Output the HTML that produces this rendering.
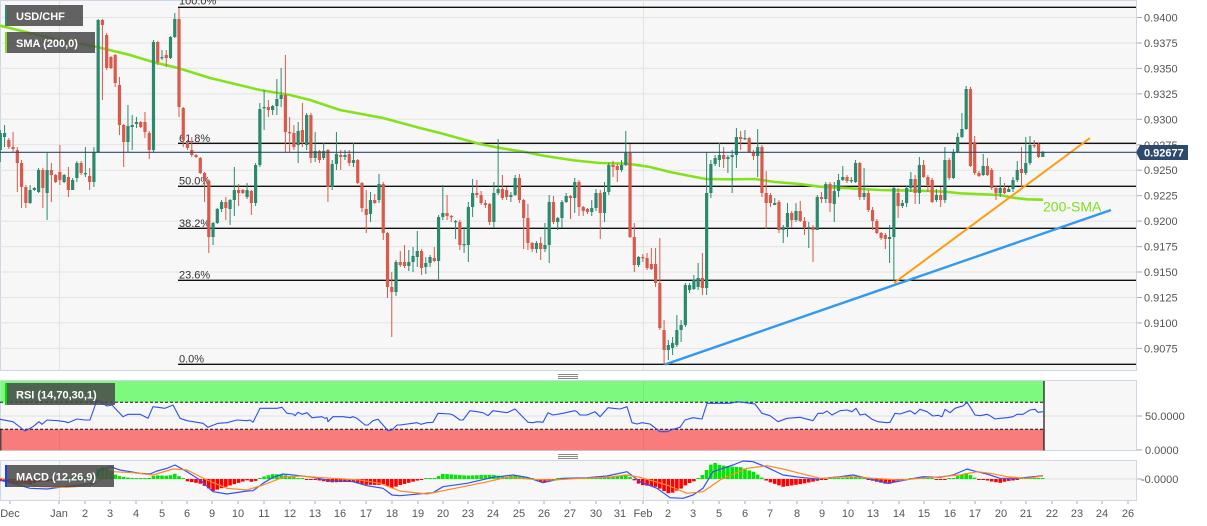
<!DOCTYPE html>
<html><head><meta charset="utf-8">
<style>
html,body{margin:0;padding:0;background:#fff;}
body{width:1207px;height:526px;overflow:hidden;}
svg{display:block;}
</style></head>
<body>
<svg id="s" width="1207" height="526" xmlns="http://www.w3.org/2000/svg" font-family="Liberation Sans, Arial, sans-serif">
<defs>
<clipPath id="cp"><rect x="0" y="0" width="1136" height="370"/></clipPath>
<clipPath id="cr"><rect x="0" y="380" width="1136" height="71"/></clipPath>
<clipPath id="cm"><rect x="0" y="460" width="1136" height="40"/></clipPath>
</defs>
<rect width="1207" height="526" fill="#fff"/>
<!-- main panel -->
<rect x="0.5" y="0.5" width="1136" height="370" fill="#f7f7f7" stroke="#cfd6e6"/>
<g stroke="#e3e3e3" stroke-width="1">
<line x1="0" y1="17.5" x2="1136" y2="17.5"/><line x1="0" y1="43" x2="1136" y2="43"/><line x1="0" y1="68.4" x2="1136" y2="68.4"/><line x1="0" y1="93.9" x2="1136" y2="93.9"/><line x1="0" y1="119.3" x2="1136" y2="119.3"/><line x1="0" y1="144.8" x2="1136" y2="144.8"/><line x1="0" y1="170.2" x2="1136" y2="170.2"/><line x1="0" y1="195.7" x2="1136" y2="195.7"/><line x1="0" y1="221.1" x2="1136" y2="221.1"/><line x1="0" y1="246.6" x2="1136" y2="246.6"/><line x1="0" y1="272" x2="1136" y2="272"/><line x1="0" y1="297.5" x2="1136" y2="297.5"/><line x1="0" y1="322.9" x2="1136" y2="322.9"/><line x1="0" y1="348.4" x2="1136" y2="348.4"/>
<line x1="59.5" y1="0" x2="59.5" y2="370"/><line x1="643.5" y1="0" x2="643.5" y2="370"/>
</g>
<g clip-path="url(#cp)">
<g stroke="#111" stroke-width="1.4">
<line x1="178" y1="7.3" x2="1136" y2="7.3"/><line x1="178" y1="143.3" x2="1136" y2="143.3"/><line x1="178" y1="186.3" x2="1136" y2="186.3"/><line x1="178" y1="228.3" x2="1136" y2="228.3"/><line x1="178" y1="280.3" x2="1136" y2="280.3"/><line x1="178" y1="364.3" x2="1136" y2="364.3"/>
</g>
<g font-size="11" fill="#333">
<text x="179" y="4.5">100.0%</text><text x="179" y="142">61.8%</text><text x="179" y="184.5">50.0%</text><text x="179" y="227">38.2%</text><text x="179" y="278.5">23.6%</text><text x="179" y="362.5">0.0%</text>
</g>
<polyline fill="none" stroke="#84e21c" stroke-width="2.6" stroke-linejoin="round" points="0,25.7 30,33 60,40 97,47 130,55 153,62 178,68 210,78 235,84 260,90 290,95 310,100 340,110 383,118 420,128 440,133 480,144 500,148 525,152 545,156 575,160.5 600,163 620,163.5 630,164 650,167 670,172 690,176 706,179 730,179.3 755,179 775,182 800,184 820,186.7 850,188.3 880,190 930,191 945,191.7 960,193.3 1000,195 1013,197.7 1027,199.3 1043,199.7"/>
<g id="candles"></g>
<line x1="894" y1="283" x2="1090" y2="138" stroke="#ff9b0f" stroke-width="2"/>
<line x1="665" y1="364.5" x2="1111" y2="210" stroke="#3399ee" stroke-width="2.4"/>
<line x1="0" y1="152.3" x2="1136" y2="152.3" stroke="#2c4a70" stroke-width="1.2"/>
<text x="1043" y="211.5" font-size="14" fill="#7ee01c">200-SMA</text>
</g>
<!-- legends main -->
<rect x="5" y="5" width="78" height="21" fill="rgba(72,72,72,0.85)"/>
<rect x="5" y="5" width="2" height="21" fill="#2b8a6d"/>
<text x="16" y="20" font-size="11" font-weight="bold" fill="#fff">USD/CHF</text>
<rect x="5" y="32" width="90" height="21" fill="rgba(72,72,72,0.85)"/>
<rect x="5" y="32" width="2" height="21" fill="#7fe01c"/>
<text x="16" y="47" font-size="11" font-weight="bold" fill="#fff">SMA (200,0)</text>
<!-- right axis -->
<g stroke="#aaa"><line x1="1137" y1="17.5" x2="1142" y2="17.5"/><line x1="1137" y1="43" x2="1142" y2="43"/><line x1="1137" y1="68.4" x2="1142" y2="68.4"/><line x1="1137" y1="93.9" x2="1142" y2="93.9"/><line x1="1137" y1="119.3" x2="1142" y2="119.3"/><line x1="1137" y1="144.8" x2="1142" y2="144.8"/><line x1="1137" y1="170.2" x2="1142" y2="170.2"/><line x1="1137" y1="195.7" x2="1142" y2="195.7"/><line x1="1137" y1="221.1" x2="1142" y2="221.1"/><line x1="1137" y1="246.6" x2="1142" y2="246.6"/><line x1="1137" y1="272" x2="1142" y2="272"/><line x1="1137" y1="297.5" x2="1142" y2="297.5"/><line x1="1137" y1="322.9" x2="1142" y2="322.9"/><line x1="1137" y1="348.4" x2="1142" y2="348.4"/>
<line x1="1137" y1="416" x2="1142" y2="416"/><line x1="1137" y1="450" x2="1142" y2="450"/><line x1="1137" y1="479" x2="1142" y2="479"/></g>
<g font-size="11" fill="#555">
<text x="1144" y="21.5">0.9400</text><text x="1144" y="47">0.9375</text><text x="1144" y="72.4">0.9350</text><text x="1144" y="97.9">0.9325</text><text x="1144" y="123.3">0.9300</text><text x="1144" y="148.8">0.9275</text><text x="1144" y="174.2">0.9250</text><text x="1144" y="199.7">0.9225</text><text x="1144" y="225.1">0.9200</text><text x="1144" y="250.6">0.9175</text><text x="1144" y="276">0.9150</text><text x="1144" y="301.5">0.9125</text><text x="1144" y="326.9">0.9100</text><text x="1144" y="352.4">0.9075</text>
<text x="1145" y="420">50.0000</text><text x="1145" y="454">0.0000</text><text x="1141" y="483">-0.0000</text>
</g>
<path d="M1136,152.3 L1140,145 L1188,145 L1188,160 L1140,160 Z" fill="#2d4a6e"/>
<text x="1144" y="156.5" font-size="11" font-weight="bold" fill="#fff">0.92677</text>
<!-- separators -->
<g stroke="#888" stroke-width="1"><line x1="558" y1="374.5" x2="578" y2="374.5"/><line x1="558" y1="376.5" x2="578" y2="376.5"/><line x1="558" y1="378.5" x2="578" y2="378.5"/>
<line x1="558" y1="454.5" x2="578" y2="454.5"/><line x1="558" y1="456.5" x2="578" y2="456.5"/><line x1="558" y1="458.5" x2="578" y2="458.5"/></g>
<!-- RSI panel -->
<rect x="0.5" y="380.5" width="1136" height="70" fill="#f7f7f7" stroke="#cfd6e6"/>
<rect x="0.5" y="381" width="1043.5" height="21.3" fill="#7dfa7d"/>
<rect x="0.5" y="429.3" width="1043.5" height="21" fill="#f97c7c"/>
<line x1="0" y1="416" x2="1136" y2="416" stroke="#e0e0e0"/>
<line x1="59.5" y1="381" x2="59.5" y2="450" stroke="rgba(0,0,0,0.06)"/><line x1="643.5" y1="381" x2="643.5" y2="450" stroke="rgba(0,0,0,0.06)"/>
<g stroke="#111" stroke-width="1" stroke-dasharray="3,2"><line x1="0" y1="402.3" x2="1044" y2="402.3"/><line x1="0" y1="429.3" x2="1044" y2="429.3"/></g>
<line x1="1044" y1="381" x2="1044" y2="450.5" stroke="#111" stroke-width="1.2"/>
<line x1="0.8" y1="429.3" x2="0.8" y2="450.5" stroke="#111" stroke-width="1"/>
<g clip-path="url(#cr)">
<polyline fill="none" stroke="#2e4ff0" stroke-width="1.1" stroke-linejoin="round" points="0,419.3 13,421.7 25,431 33,426.7 39,421.7 42,424.3 47,420 58,420.7 65,421.7 68,422.7 77,419 85,420 90,420 97,400 107,406 112,405 123,416.7 128,414.3 140,414.3 148,418.3 153,406.7 165,408.3 173,405 180,418.3 187,420.7 203,423.3 208,427.3 218,423.3 227,422.7 237,420 247,420.7 250,420 253,422.3 260,408.3 277,408.3 282,407.3 287,413.3 293,414 295,415.7 298,412.3 302,414.3 307,412.7 312,417.7 322,416.7 325,418.3 327,417.7 328,421.7 333,416.7 343,416.7 350,417.7 353,416.7 357,418.3 365,425 368,425 373,420.7 378,419.3 383,425 388,430.7 392,430 397,425 400,425 417,422.7 421,424.3 427,422.7 433,422.3 438,413.3 450,414 453,415 460,420 463,420 470,410.7 477,411.7 483,412.7 488,415.7 493,410.7 500,411.7 507,412.7 515,409 528,422.3 533,422.7 537,421.7 543,422.3 548,412.7 553,415 563,413.3 570,411.7 575,410.7 577,411.7 580,415 587,415 595,411.7 600,416.7 608,407.7 613,408.3 620,409 627,406.7 632,422.7 637,424 642,422.7 650,424 657,429.3 660,431.7 667,431.7 673,429.3 680,427.3 685,420 693,417.7 702,419 707,403.3 713,403.3 730,403.3 737,401.7 743,402.3 750,403.3 755,404 762,413.3 770,415.7 778,421.7 787,418.3 800,417.3 813,420.7 818,413.3 823,413.3 827,411 832,415 840,410.7 847,410 852,411.7 856,408.3 860,415 865,414 872,419.3 878,421.7 887,422.7 890,422.3 895,413.3 900,414 910,410.7 915,414 920,409.3 927,411.7 933,416 938,415.3 942,416.7 945,409.3 950,412.7 955,408.3 960,406.7 963,406 967,402.3 971,408.3 975,415 980,415.7 987,414.3 990,415.7 995,419 1000,418.3 1007,417.7 1013,416.7 1017,414.3 1023,414.3 1030,410 1035,409.3 1038,412.3 1043,411.7"/>
</g>
<rect x="5" y="383" width="110" height="22" fill="rgba(72,72,72,0.85)"/>
<rect x="5" y="383" width="2" height="22" fill="#00dd00"/>
<text x="16" y="398.5" font-size="11" font-weight="bold" fill="#fff">RSI (14,70,30,1)</text>
<!-- MACD panel -->
<rect x="0.5" y="460.5" width="1136" height="40" fill="#f7f7f7" stroke="#cfd6e6"/>
<line x1="0" y1="479" x2="1136" y2="479" stroke="#e0e0e0"/>
<line x1="59.5" y1="461" x2="59.5" y2="500" stroke="#e0e0e0"/><line x1="643.5" y1="461" x2="643.5" y2="500" stroke="#e0e0e0"/>
<g clip-path="url(#cm)">
<g id="hist"></g>
<polyline id="mb" fill="none" stroke="#3050ff" stroke-width="1.2" stroke-linejoin="round" points="0,480 13,483.3 30,488.3 47,489 60,487.3 80,485 92,483.3 100,470 110,466.7 120,470 140,473.3 150,474 157,471 167,468.3 175,465 187,471.7 200,480 213,491.7 227,494 247,491 253,490.7 263,483.3 273,477.3 283,474 300,475.7 313,477.3 330,480.7 353,481.7 367,485.7 383,488.3 392,495 400,495.7 433,492.7 443,486.7 467,483.3 493,477.3 513,475 527,477.3 543,482.7 563,478.3 587,477.7 607,476 627,471.7 640,481.7 657,488.3 670,497.7 683,498.3 693,495 703,488.3 713,471.7 733,465 743,461 753,461.7 767,467.3 783,475 800,477.3 817,479 840,476.7 853,475 870,479 888,483.3 900,481 923,476.7 940,477.3 953,475 967,469 973,470.7 987,474 1000,478.3 1017,478.3 1027,477.3 1043,475.7"/>
<polyline id="mo" fill="none" stroke="#ff8a1c" stroke-width="1.2" stroke-linejoin="round" points="0,478.3 20,481.7 40,486.7 67,487.3 90,485.7 100,480 113,471.7 133,472.7 153,475 173,469 187,470 207,480 227,488.3 247,490 263,485 283,477.3 300,476 317,477.3 333,478.3 360,480 380,483.3 392,488 400,491 427,494 450,489.3 483,482.7 507,477.3 533,479.3 553,480 580,478.3 607,477.3 627,475 640,477.3 667,485 687,493.3 703,491.7 720,480 747,468.3 767,465.7 783,469 800,473.3 820,478.3 850,476.7 873,478.3 900,480 933,477.3 960,475 977,471.7 990,473.3 1007,476.7 1027,478.3 1043,476"/>
</g>
<rect x="5" y="465" width="109" height="22" fill="rgba(72,72,72,0.85)"/>
<rect x="5" y="465" width="2" height="22" fill="#1a3cff"/>
<text x="16" y="480.5" font-size="11" font-weight="bold" fill="#fff">MACD (12,26,9)</text>
<!-- x axis -->
<g stroke="#aaa"><line x1="10" y1="501" x2="10" y2="504"/><line x1="59" y1="501" x2="59" y2="504"/><line x1="85" y1="501" x2="85" y2="504"/><line x1="110" y1="501" x2="110" y2="504"/><line x1="136" y1="501" x2="136" y2="504"/><line x1="162" y1="501" x2="162" y2="504"/><line x1="187" y1="501" x2="187" y2="504"/><line x1="212" y1="501" x2="212" y2="504"/><line x1="238" y1="501" x2="238" y2="504"/><line x1="264" y1="501" x2="264" y2="504"/><line x1="290" y1="501" x2="290" y2="504"/><line x1="315" y1="501" x2="315" y2="504"/><line x1="340" y1="501" x2="340" y2="504"/><line x1="366" y1="501" x2="366" y2="504"/><line x1="392" y1="501" x2="392" y2="504"/><line x1="418" y1="501" x2="418" y2="504"/><line x1="443" y1="501" x2="443" y2="504"/><line x1="468" y1="501" x2="468" y2="504"/><line x1="493" y1="501" x2="493" y2="504"/><line x1="519" y1="501" x2="519" y2="504"/><line x1="544" y1="501" x2="544" y2="504"/><line x1="570" y1="501" x2="570" y2="504"/><line x1="596" y1="501" x2="596" y2="504"/><line x1="620" y1="501" x2="620" y2="504"/><line x1="643" y1="501" x2="643" y2="504"/><line x1="668" y1="501" x2="668" y2="504"/><line x1="693" y1="501" x2="693" y2="504"/><line x1="719" y1="501" x2="719" y2="504"/><line x1="745" y1="501" x2="745" y2="504"/><line x1="770" y1="501" x2="770" y2="504"/><line x1="797" y1="501" x2="797" y2="504"/><line x1="822" y1="501" x2="822" y2="504"/><line x1="848" y1="501" x2="848" y2="504"/><line x1="873" y1="501" x2="873" y2="504"/><line x1="899" y1="501" x2="899" y2="504"/><line x1="924" y1="501" x2="924" y2="504"/><line x1="950" y1="501" x2="950" y2="504"/><line x1="975" y1="501" x2="975" y2="504"/><line x1="1001" y1="501" x2="1001" y2="504"/><line x1="1026" y1="501" x2="1026" y2="504"/><line x1="1052" y1="501" x2="1052" y2="504"/><line x1="1077" y1="501" x2="1077" y2="504"/><line x1="1102" y1="501" x2="1102" y2="504"/><line x1="1128" y1="501" x2="1128" y2="504"/></g>
<g font-size="11" fill="#555" text-anchor="middle">
<text x="10" y="517">Dec</text><text x="59" y="517">Jan</text><text x="85" y="517">2</text><text x="110" y="517">3</text><text x="136" y="517">4</text><text x="162" y="517">5</text><text x="187" y="517">6</text><text x="212" y="517">9</text><text x="238" y="517">10</text><text x="264" y="517">11</text><text x="290" y="517">12</text><text x="315" y="517">13</text><text x="340" y="517">16</text><text x="366" y="517">17</text><text x="392" y="517">18</text><text x="418" y="517">19</text><text x="443" y="517">20</text><text x="468" y="517">23</text><text x="493" y="517">24</text><text x="519" y="517">25</text><text x="544" y="517">26</text><text x="570" y="517">27</text><text x="596" y="517">30</text><text x="620" y="517">31</text><text x="643" y="517">Feb</text><text x="668" y="517">2</text><text x="693" y="517">3</text><text x="719" y="517">5</text><text x="745" y="517">6</text><text x="770" y="517">7</text><text x="797" y="517">8</text><text x="822" y="517">9</text><text x="848" y="517">10</text><text x="873" y="517">13</text><text x="899" y="517">14</text><text x="924" y="517">15</text><text x="950" y="517">16</text><text x="975" y="517">17</text><text x="1001" y="517">20</text><text x="1026" y="517">21</text><text x="1052" y="517">22</text><text x="1077" y="517">23</text><text x="1102" y="517">24</text><text x="1128" y="517">26</text>
</g>
</svg>
<script>
(function(){
var NS="http://www.w3.org/2000/svg";
var C=[[150,133,130,162],[137,133,125,147],[140,147,138,149],[147,149,132,152],[150,163,147,192],[163,187,160,208],[187,203,185,208],[203,190,185,204],[190,188],[192,170,168,193],
[170,188,168,208],[193,170,152,220],[170,175,163,202],[175,182],[172,180,145,185],[182,175],[177,190,167,197],[190,180,178,190],[178,163,161,182],[163,173,161,175],
[174,173,147,177],[176,182,168,190],[182,152,147,187],[152,20,19,153],[20,25,19,100],[35,68,33,70],[57,68],[55,83,54,87],[85,125,77,135],[125,142,124,167],
[142,126,105,152],[127,125,115,150],[124,122,117,128],[122,127],[122,132,112,138],[133,150,131,159],[150,42,40,153],[42,62,41,65],[58,57,50,60],[55,58,50,67],
[58,37],[37,19,13,38],[19,107,8,117],[108,140,107,147],[143,148,140,150],[150,155,137,157],[155,157],[158,173],[173,180,172,202],[181,237,180,253],
[237,223,222,245],[223,209],[209,202,200,212],[202,208,197,220],[209,200,199,225],[200,190,167,216],[190,193,184,206],[190,193],[197,190,183,199],[191,203,190,215],
[203,165,163,206],[165,109,103,167],[108,107,90,130],[107,110,100,117],[110,106,105,115],[106,99,79,115],[99,95,68,107],[95,132,55,153],[132,133,117,152],[133,147,125,150],
[145,131,122,163],[130,142,103,147],[145,115,113,150],[115,158,113,163],[158,151,132,162],[151,160,150,163],[158,151,143,160],[150,187,149,202],[187,164,160,190],[164,154,132,170],
[155,157,150,170],[157,155,150,160],[154,163,150,166],[163,160,143,167],[160,183,159,184],[183,208,182,212],[209,215,190,233],[214,200,192,222],[200,203,194,204],[200,184,174,203],
[184,233,182,240],[233,287,232,298],[287,292,272,337],[292,262,260,296],[262,265,251,267],[262,266,245,268],[266,262,250,271],[262,256,247,272],[257,251,231,267],[251,268,249,275],
[267,263,257,274],[263,257,255,267],[258,261,247,262],[261,217,215,280],[217,213,185,220],[213,216,195,220],[216,217,215,222],[222,221,220,239],[222,245,220,250],[245,244,227,253],
[245,207,202,262],[207,193,179,217],[193,195,180,198],[195,203,191,205],[203,205,200,208],[204,222,203,225],[222,193,182,228],[193,189,139,195],[189,198,175,200],[190,197,187,200],
[197,195,192,202],[195,178,175,196],[178,200,174,203],[200,218,199,249],[218,243,204,250],[243,249,242,252],[249,243,241,253],[243,249,237,260],[249,245,223,252],[245,202,195,263],
[202,222,196,224],[222,218,217,230],[218,202,200,228],[202,196,193,203],[196,198,195,219],[198,182,178,213],[182,207,180,216],[207,211,206,216],[209,212,208,214],[212,208,200,216],
[208,193,189,211],[193,213,190,239],[213,192,182,222],[192,165,163,195],[165,167,161,177],[166,170,164,182],[170,165,160,172],[165,153,131,166],[153,237,144,238],[237,265,223,272],
[265,257,256,267],[257,258,254,262],[258,268,253,270],[264,269,248,270],[264,283,248,287],[283,328,238,330],[330,350,320,365],[350,345,340,360],[348,343,337,355],[345,330,315,347],
[330,325,320,342],[325,285,283,327],[290,285,283,293],[289,280,275,290],[287,278,263,290],[278,288,253,295],[288,193,152,295],[193,164,160,198],[164,158,155,166],[160,155,143,167],
[155,159,147,168],[159,157,155,173],[157,155,150,193],[155,137,128,168],[137,139,131,150],[139,138,130,140],[138,152,137,153],[152,156,150,160],[156,147,129,177],[147,193,145,197],
[193,203,171,229],[195,203,193,207],[205,203,198,205],[202,230,200,233],[230,227,225,243],[227,213,203,237],[213,220,211,228],[220,211,203,222],[211,221,201,222],[221,228,217,235],
[228,227,222,248],[227,230,225,262],[230,197,195,230],[197,199,192,203],[199,184,182,203],[184,203,182,212],[204,191,182,222],[191,180,174,197],[180,177,166,181],[177,181,175,183],
[181,180,177,183],[182,163,160,183],[163,197,162,200],[197,193,168,200],[193,210,190,212],[210,221,207,230],[221,233,219,234],[233,238,232,240],[235,239,233,249],[239,237,225,263],
[237,188,187,281],[193,206,188,218],[206,203,200,208],[203,188,186,207],[188,179,172,192],[179,193,175,204],[193,165,157,204],[165,177,160,178],[177,185,175,192],[180,202,178,203],
[200,195,189,202],[195,200,187,207],[200,160,147,203],[160,178,158,180],[178,152,149,179],[152,137,133,153],[137,129,113,138],[129,89,86,130],[89,166,87,167],[142,173,136,175],
[173,176,171,177],[175,166,154,176],[166,175,158,176],[170,188,168,190],[188,193,186,200],[193,188,177,197],[188,193,183,194],[192,189,187,192],[189,180,177,192],[180,170,161,182],
[169,173,147,187],[173,163,137,175],[163,145,136,165],[145,146,140,148],[144,157,143,158],[157,152,151,157]];
function el(n,a){var e=document.createElementNS(NS,n);for(var k in a)e.setAttribute(k,a[k]);return e;}
var g=document.getElementById('candles');
var N=C.length;
for(var i=0;i<N;i++){
 var d=C[i],x=0.3+i*4.255,o=d[0],c=d[1],h=d[2],l=d[3];
 if(h===undefined){h=Math.min(o,c)-1;l=Math.max(o,c)+1;}
 var col=(c<=o)?'#2b8a6d':'#d9594a';
 g.appendChild(el('line',{x1:x,y1:h,x2:x,y2:l,stroke:col,'stroke-width':1}));
 var t=Math.min(o,c),hh=Math.max(Math.abs(o-c),1.3);
 g.appendChild(el('rect',{x:x-1.6,y:t,width:3.2,height:hh,fill:col}));
}
function pts(id){return document.getElementById(id).getAttribute('points').trim().split(/\s+/).map(function(p){var a=p.split(',');return [+a[0],+a[1]];});}
function ip(P,x){for(var k=1;k<P.length;k++){if(x<=P[k][0]){var a=P[k-1],b=P[k];return a[1]+(b[1]-a[1])*(x-a[0])/(b[0]-a[0]);}}return P[P.length-1][1];}
var B=pts('mb'),O=pts('mo'),hg=document.getElementById('hist');
for(var j=0;j<N;j++){
 var xx=0.3+j*4.255,dd=(ip(O,xx)-ip(B,xx))*1.3;
 var hgt=Math.max(Math.abs(dd),1);
 hg.appendChild(el('rect',{x:xx-1.8,y:dd>0?479-hgt:479,width:3.6,height:hgt,fill:dd>0?'#00e600':'#ff0000'}));
}
})();
</script>
</body></html>
